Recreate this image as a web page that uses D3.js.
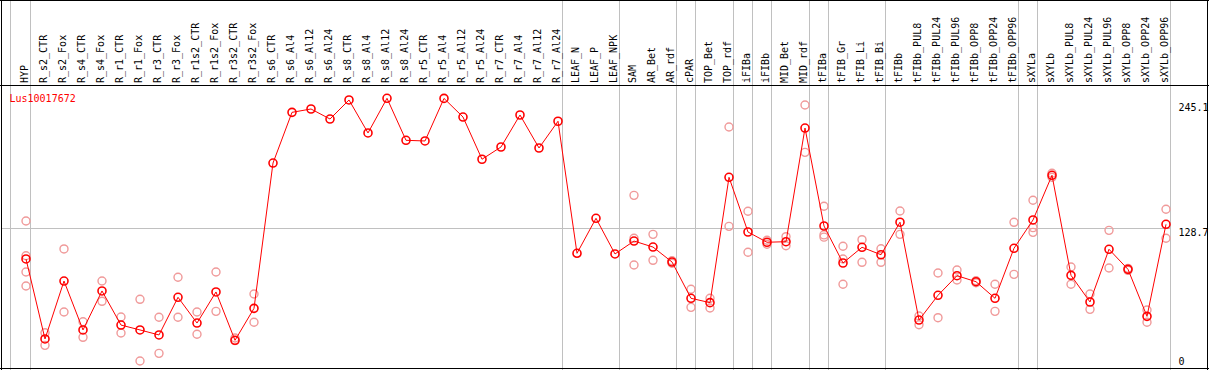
<!DOCTYPE html>
<html><head><meta charset="utf-8">
<script src="https://cdn.jsdelivr.net/npm/d3@7"></script>
<style>body{margin:0;background:#fff}svg{display:block}text{font-family:"DejaVu Sans Mono",monospace;font-size:10px}</style>
</head><body>
<svg id="c" width="1209" height="370"></svg>
<script>
const categories = ["HYP","R_s2_CTR","R_s2_Fox","R_s4_CTR","R_s4_Fox","R_r1_CTR","R_r1_Fox","R_r3_CTR","R_r3_Fox","R_r1s2_CTR","R_r1s2_Fox","R_r3s2_CTR","R_r3s2_Fox","R_s6_CTR","R_s6_Al4","R_s6_Al12","R_s6_Al24","R_s8_CTR","R_s8_Al4","R_s8_Al12","R_s8_Al24","R_r5_CTR","R_r5_Al4","R_r5_Al12","R_r5_Al24","R_r7_CTR","R_r7_Al4","R_r7_Al12","R_r7_Al24","LEAF_N","LEAF_P","LEAF_NPK","SAM","AR_Bet","AR_rdf","cPAR","TOP_Bet","TOP_rdf","iFIBa","iFIBb","MID_Bet","MID_rdf","tFIBa","tFIB_Gr","tFIB_Li","tFIB_Bi","tFIBb","tFIBb_PUL8","tFIBb_PUL24","tFIBb_PUL96","tFIBb_OPP8","tFIBb_OPP24","tFIBb_OPP96","sXYLa","sXYLb","sXYLb_PUL8","sXYLb_PUL24","sXYLb_PUL96","sXYLb_OPP8","sXYLb_OPP24","sXYLb_OPP96"];
const meanValues = [100.9,29.1,81.1,37.2,72.2,41.6,37.2,32.7,66.5,43.4,71.3,27.9,56.6,187.0,232.5,235.5,226.5,243.6,214.0,245.1,207.4,206.8,245.0,228.3,190.4,201.4,230.1,200.5,224.5,106.0,137.4,105.4,117.0,111.6,98.2,65.6,61.7,174.2,125.1,115.9,116.4,218.4,130.5,97.3,111.4,104.7,133.9,46.1,68.3,85.9,80.5,65.6,110.5,135.9,176.0,86.2,62.3,109.6,91.6,49.4,132.0];
const replicates = [[135.0,103.8,89.2,76.6],[34.7,23.4],[109.9,53.3],[44.6,30.6],[81.1,62.9],[48.8,34.5],[64.7,9.3],[48.6,16.2],[84.5,48.6],[53.3,33.3],[89.2,53.9],[30.0,27.6],[69.5,44.1],
[],[],[],[],[],[],[],[],[],[],[],[],[],[],[],[],[],[],[],
[158.0,119.5,95.5],[123.0,99.7],[99.3,97.1],[73.7,57.5],[65.6,56.9],[219.3,130.2],[143.7,106.9],[114.1,117.7],[120.9,112.8],[239.1,196.6],[148.2,122.5,120.5],[112.3,100.9,78.2],[118.2,97.9],[110.1,97.9],[144.0,123.0],[49.7,41.9],[88.3,48.2],[91.0,82.0],[79.6,81.4],[78.2,53.9],[133.8,87.1],[153.6,129.0,124.8],[177.8,174.2],[93.7,78.2],[69.5,55.7],[126.6,92.8],[92.5,90.7],[55.1,44.1],[145.5,119.5]];
const groupEnds = [0,28,31,34,35,37,38,39,41,42,45,52,53,60];
const yTicks = [245.1,128.7,0];
const geneName = "Lus10017672";

const svg = d3.select("#c");
const x = d3.scalePoint().domain(categories).range([26, 1166]);
const y = d3.scaleLinear().domain([0, 245.1]).range([371.4, 98.3]);
const grey = "#c0c0c0";

svg.append("line").attr("x1",1).attr("x2",1170).attr("y1",Math.round(y(128.7))+0.5).attr("y2",Math.round(y(128.7))+0.5).attr("stroke",grey);
svg.append("line").attr("x1",10.5).attr("x2",10.5).attr("y1",0).attr("y2",370).attr("stroke",grey);
svg.selectAll("line.sep").data(groupEnds).join("line").attr("class","sep")
  .attr("x1",d=>Math.round(x(categories[d]))+4.5).attr("x2",d=>Math.round(x(categories[d]))+4.5)
  .attr("y1",0).attr("y2",370).attr("stroke",grey);

const frame = svg.append("g").attr("stroke","#000").attr("stroke-width",1);
frame.append("line").attr("x1",0).attr("x2",1209).attr("y1",0.5).attr("y2",0.5);
frame.append("line").attr("x1",0).attr("x2",1209).attr("y1",85.5).attr("y2",85.5);
frame.append("line").attr("x1",0).attr("x2",1209).attr("y1",368.5).attr("y2",368.5);
frame.append("line").attr("x1",1.5).attr("x2",1.5).attr("y1",0).attr("y2",370);
frame.append("line").attr("x1",1207.5).attr("x2",1207.5).attr("y1",0).attr("y2",370);

svg.selectAll("text.cat").data(categories).join("text").attr("class","cat")
  .attr("transform",d=>`translate(${x(d)+2},83) rotate(-90)`)
  .attr("fill","#000").text(d=>d);

const yOff = [12.5, 8, -6.5];
svg.selectAll("text.yt").data(yTicks).join("text").attr("class","yt")
  .attr("x",1178.5).attr("y",(d,i)=>y(d)+yOff[i]).attr("fill","#000").text(d=>d);

svg.append("text").attr("x",9.5).attr("y",102).attr("fill","#ff0000").text(geneName);

const repPts = [];
replicates.forEach((arr,i)=>arr.forEach(v=>repPts.push({c:categories[i],v})));
svg.selectAll("circle.rep").data(repPts).join("circle").attr("class","rep")
  .attr("cx",d=>x(d.c)).attr("cy",d=>y(d.v)).attr("r",4)
  .attr("fill","none").attr("stroke","#f09a9a").attr("stroke-width",1.4);

const line = d3.line().x((d,i)=>x(categories[i])).y(d=>y(d));
svg.append("path").datum(meanValues).attr("d",line).attr("fill","none").attr("stroke","#ff0000").attr("stroke-width",1);

svg.selectAll("circle.mean").data(meanValues).join("circle").attr("class","mean")
  .attr("cx",(d,i)=>x(categories[i])).attr("cy",d=>y(d)).attr("r",4)
  .attr("fill","none").attr("stroke","#ff0000").attr("stroke-width",1.6);
</script>
</body></html>
